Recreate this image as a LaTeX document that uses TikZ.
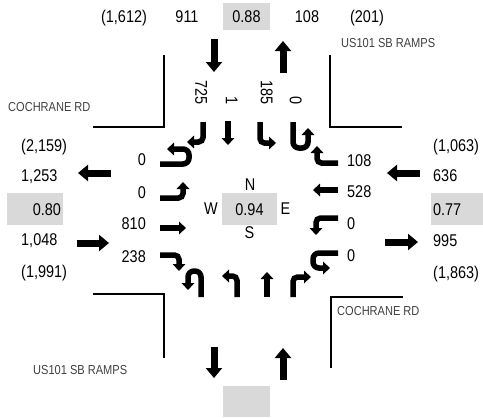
\documentclass[tikz,border=0pt]{standalone}
\usepackage{fontspec}
\setmainfont{Liberation Sans}[FakeStretch=0.85]
\usepackage{tikz}
\usetikzlibrary{arrows.meta}
\newcommand{\volfont}{\fontsize{17}{20}\selectfont}
\newcommand{\streetfont}{\fontsize{13}{15}\selectfont}
\tikzset{
  vol/.style={inner sep=0pt, font=\volfont, text height=12.2pt, text depth=0pt},
  rvol/.style={vol, rotate=-90, anchor=east},
  phf/.style={vol, fill=black!15, inner sep=2pt},
  street/.style={inner sep=0pt, font=\streetfont, text=black!75, anchor=west,
                 text height=9.3pt, text depth=0pt},
  curb/.style={line width=1.6pt},
  flow/.style={line width=7pt, -{Triangle[width=16pt,length=10pt]}},
  mov/.style={line width=5.5pt, -{Triangle[width=12.5pt,length=7pt]}, rounded corners=4.5pt},
  uturn/.style={mov, rounded corners=6pt}
}
\begin{document}
\begin{tikzpicture}[x=1pt, y=-1pt]
  \useasboundingbox (0,0) rectangle (483,418);
  % north leg
  \node[vol] (nTotIn) at (124,16.5) {(1,612)};
  \node[vol] (nIn) at (187,16.5) {911};
  \node[phf, minimum width=47pt, minimum height=27pt] (nPhf) at (246.5,16.5) {0.88};
  \node[vol] (nOut) at (307,16.5) {108};
  \node[vol] (nTotOut) at (367,16.5) {(201)};
  \node[street] (nName) at (341,43) {US101 SB RAMPS};
  \draw[flow] (214,39) -- (214,72);
  \draw[flow] (283,73) -- (283,41);
  \draw[curb] (93,127) -- (164,127) -- (164,55);
  \draw[curb] (330,55) -- (330,127) -- (402,127);
  \node[street] (wName) at (8,107) {COCHRANE RD};
  % southbound
  \node[rvol] (sbR) at (201.5,105) {725};
  \node[rvol] (sbT) at (232,105) {1};
  \node[rvol] (sbL) at (267,105) {185};
  \node[rvol] (sbU) at (296,105) {0};
  \draw[mov] (203,122) -- (203,142) -- (187,142);
  \draw[mov] (228,121) -- (228,145);
  \draw[mov] (260,122) -- (260,143) -- (276,143);
  \draw[uturn] (293,122) -- (293,148) -- (308,148) -- (308,128);
  % west leg
  \node[vol, anchor=west] (wTotOut) at (21,145) {(2,159)};
  \node[vol, anchor=west] (wOut) at (21,175.5) {1,253};
  \node[phf, minimum width=56pt, minimum height=32pt, text width=52pt, align=right] (wPhf) at (35,209) {0.80};
  \node[vol, anchor=west] (wIn) at (21,239.5) {1,048};
  \node[vol, anchor=west] (wTotIn) at (21,271.5) {(1,991)};
  \draw[flow] (111,173) -- (78,173);
  \draw[flow] (77,243) -- (109,243);
  % eastbound
  \node[vol, anchor=east] (ebU) at (146,159.5) {0};
  \node[vol, anchor=east] (ebL) at (146,192) {0};
  \node[vol, anchor=east] (ebT) at (146,223.5) {810};
  \node[vol, anchor=east] (ebR) at (146,256) {238};
  \draw[uturn] (160,164) -- (189,164) -- (189,149) -- (167,149);
  \draw[mov] (160,198) -- (183,198) -- (183,182);
  \draw[mov] (160,228) -- (186,228);
  \draw[mov] (160,255) -- (179,255) -- (179,271);
  % east leg
  \node[vol, anchor=west] (eTotIn) at (433,145) {(1,063)};
  \node[vol, anchor=west] (eIn) at (433,175.5) {636};
  \node[phf, minimum width=52pt, minimum height=32pt, text width=48pt, align=left] (ePhf) at (457,209) {0.77};
  \node[vol, anchor=west] (eOut) at (433,240) {995};
  \node[vol, anchor=west] (eTotOut) at (433,272) {(1,863)};
  \draw[flow] (420,173) -- (387,173);
  \draw[flow] (385,242) -- (418,242);
  % westbound
  \node[vol, anchor=west] (wbR) at (347,160.5) {108};
  \node[vol, anchor=west] (wbT) at (347,191.5) {528};
  \node[vol, anchor=west] (wbL) at (347,223.5) {0};
  \node[vol, anchor=west] (wbU) at (347,255.5) {0};
  \draw[mov] (338,163) -- (317,163) -- (317,146);
  \draw[mov] (338,190) -- (313,190);
  \draw[mov] (338,218) -- (316,218) -- (316,235);
  \draw[uturn] (338,253) -- (313,253) -- (313,268) -- (330,268);
  % centre
  \node[phf, minimum width=55pt, minimum height=32pt] (cPhf) at (249.5,209) {0.94};
  \node[vol] (cN) at (250,184) {N};
  \node[vol] (cW) at (211,208.5) {W};
  \node[vol] (cE) at (285.5,208.5) {E};
  \node[vol] (cS) at (249.5,232.5) {S};
  % northbound
  \draw[uturn] (201,297) -- (201,271) -- (188,271) -- (188,290);
  \draw[mov] (237,297) -- (237,276) -- (222,276);
  \draw[mov] (267,297) -- (267,272);
  \draw[mov] (293,297) -- (293,277) -- (311,277);
  % south leg
  \draw[curb] (93,294) -- (164,294) -- (164,358);
  \draw[curb] (403,297) -- (331,297) -- (331,368);
  \node[street] (sName) at (33,370) {US101 SB RAMPS};
  \node[street] (eName) at (337,311) {COCHRANE RD};
  \draw[flow] (214,347) -- (214,378);
  \draw[flow] (283,380) -- (283,348);
  \node[phf, minimum width=47pt, minimum height=31pt] (sPhf) at (246.5,401.5) {};
\end{tikzpicture}
\end{document}
